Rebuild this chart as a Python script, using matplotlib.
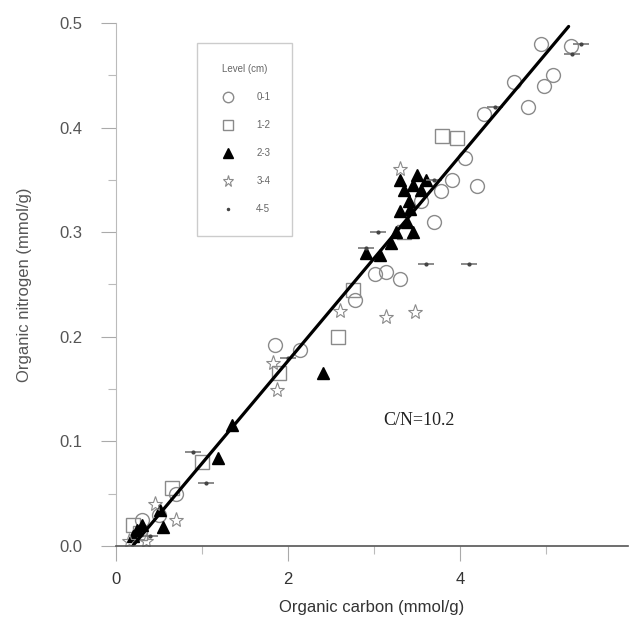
import matplotlib
matplotlib.use('Agg')
import matplotlib.pyplot as plt
from matplotlib.ticker import MultipleLocator

plt.rcParams['font.family'] = ['Liberation Sans', 'DejaVu Sans']

# level 0-1 cm (open circles)
c_01 = [5.29, 4.94, 5.08, 4.97, 4.79, 4.63, 4.28, 4.19, 4.05, 3.78, 3.90, 3.55, 3.30, 3.14, 3.01, 2.78, 2.14, 1.85, 0.50, 0.30, 0.70, 3.70]
n_01 = [0.478, 0.480, 0.450, 0.440, 0.420, 0.444, 0.413, 0.344, 0.371, 0.339, 0.350, 0.330, 0.255, 0.262, 0.260, 0.235, 0.187, 0.192, 0.030, 0.025, 0.050, 0.310]

# level 1-2 cm (open squares)
c_12 = [3.79, 3.96, 2.58, 2.75, 1.90, 0.65, 0.20, 0.28, 1.00, 3.35]
n_12 = [0.392, 0.390, 0.200, 0.245, 0.165, 0.055, 0.020, 0.012, 0.080, 0.300]

# level 2-3 cm (filled triangles)
c_23 = [3.30, 3.35, 3.40, 3.45, 3.50, 3.55, 3.30, 3.38, 3.45, 3.60, 3.25, 3.20, 3.42, 2.90, 3.07, 2.40, 1.35, 1.19, 0.55, 0.51, 0.24, 0.20, 0.30]
n_23 = [0.350, 0.340, 0.330, 0.345, 0.355, 0.340, 0.320, 0.310, 0.300, 0.350, 0.300, 0.290, 0.322, 0.280, 0.278, 0.165, 0.116, 0.084, 0.018, 0.034, 0.015, 0.010, 0.020]

# level 3-4 cm (open stars)
c_34 = [3.48, 3.14, 1.87, 1.83, 2.60, 0.70, 0.35, 0.15, 3.30, 0.45]
n_34 = [0.224, 0.219, 0.149, 0.175, 0.225, 0.025, 0.005, 0.005, 0.360, 0.040]

# level 4-5 cm (small marks)
c_45 = [3.70, 4.10, 1.05, 3.05, 2.90, 5.30, 5.40, 0.90, 2.00, 4.40, 0.40, 3.60]
n_45 = [0.350, 0.270, 0.060, 0.300, 0.285, 0.470, 0.480, 0.090, 0.180, 0.420, 0.010, 0.270]

levels = ['0-1', '1-2', '2-3', '3-4', '4-5']

# regression line, C/N = 10.2
fit_c = [0.15, 5.26]
cn_ratio = 10.2
fit_intercept = -0.019
fit_n = [c / cn_ratio + fit_intercept for c in fit_c]

fig = plt.figure(figsize=(6.29, 6.28), dpi=100)
ax = fig.add_axes([116 / 629, 82 / 628, 512 / 629, 523 / 628])

gray = '#8a8a8a'
h1, = ax.plot(c_01, n_01, 'o', ms=10, mfc='none', mec=gray, mew=1.0, label=levels[0])
h2, = ax.plot(c_12, n_12, 's', ms=10, mfc='none', mec=gray, mew=1.0, label=levels[1])
h3, = ax.plot(c_23, n_23, '^', ms=9, color='black', label=levels[2])
h4, = ax.plot(c_34, n_34, '*', ms=11, mfc='none', mec=gray, mew=0.8, label=levels[3])
ax.plot(c_45, n_45, '_', ms=11, color='#777777', mew=1.2)
h5, = ax.plot(c_45, n_45, '.', ms=4, color='#444444', label=levels[4])

ax.plot(fit_c, fit_n, color='black', lw=2.3, solid_capstyle='round')

ax.text(3.1, 0.12, 'C/N=10.2', fontsize=13, family=['Liberation Serif', 'DejaVu Serif'],
        va='center', ha='left', color='#222222')

ax.set_xlim(0, 5.95)
ax.set_ylim(0, 0.5)
ax.xaxis.set_major_locator(MultipleLocator(2))
ax.xaxis.set_minor_locator(MultipleLocator(1))
ax.yaxis.set_major_locator(MultipleLocator(0.1))
ax.yaxis.set_minor_locator(MultipleLocator(0.05))
ax.yaxis.set_major_formatter(matplotlib.ticker.FormatStrFormatter('%.1f'))

for s in ['top', 'right']:
    ax.spines[s].set_visible(False)
ax.spines['left'].set_color('#bbbbbb')
ax.spines['left'].set_linewidth(0.8)
ax.spines['bottom'].set_color('#555555')
ax.spines['bottom'].set_linewidth(1.2)

ax.tick_params(axis='both', which='major', length=11, width=0.8, color='#aaaaaa',
               labelsize=12, labelcolor='#333333', pad=8)
ax.tick_params(axis='both', which='minor', length=6, width=0.8, color='#bbbbbb')
ax.tick_params(axis='y', which='major', pad=13, labelcolor='#555555')

ax.set_xlabel('Organic carbon (mmol/g)', fontsize=12, color='#333333', labelpad=9)
ax.set_ylabel('Organic nitrogen (mmol/g)', fontsize=12, color='#555555', labelpad=20)

leg = ax.legend(handles=[h1, h2, h3, h4, h5], title='Level (cm)', loc='upper left',
                bbox_to_anchor=(197 / 629, 1 - 43 / 628), bbox_transform=fig.transFigure,
                fontsize=7, title_fontsize=7, labelspacing=1.85, borderpad=2.2,
                handletextpad=1.9, markerscale=0.75, fancybox=False, edgecolor='#cccccc',
                framealpha=1, borderaxespad=0)
leg.get_title().set_color('#666666')
for t in leg.get_texts():
    t.set_color('#666666')

fig.savefig('out.png', dpi=100)
